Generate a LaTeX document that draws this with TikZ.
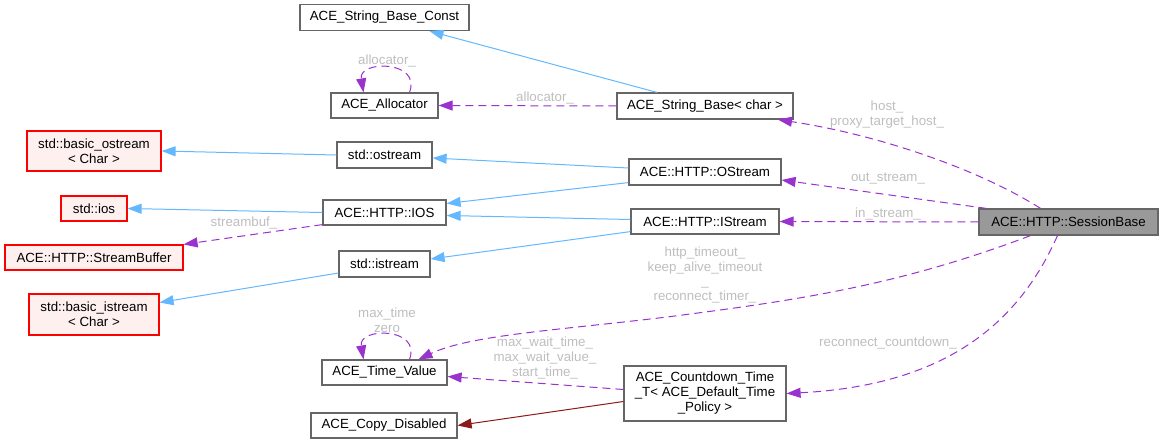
\documentclass[tikz,border=0pt]{standalone}
\usepackage{fontspec}
\setmainfont{Liberation Sans}
\usetikzlibrary{arrows.meta}
\definecolor{edgeblue}{HTML}{63B8FF}
\definecolor{edgepurple}{HTML}{9A32CD}
\definecolor{edgered}{HTML}{8B1A1A}
\definecolor{lblgray}{HTML}{BEBEBE}
\definecolor{boxgray}{HTML}{666666}
\definecolor{redfill}{HTML}{FFF0F0}
\definecolor{sessfill}{HTML}{999999}
\tikzset{
 cls/.style={draw=boxgray, fill=white, line width=1.2pt, inner sep=0pt, align=center, font=\fontsize{13.3}{15}\selectfont},
 ext/.style={cls, draw=red, fill=redfill},
 cur/.style={cls, fill=sessfill},
 inh/.style={draw=edgeblue, line width=1pt, -{Triangle[length=14pt,width=10pt]}},
 use/.style={draw=edgepurple, line width=1pt, dash pattern=on 8pt off 5pt, -{Triangle[length=14pt,width=10pt]}},
 priv/.style={draw=edgered, line width=1pt, -{Triangle[length=14pt,width=10pt]}},
 lbl/.style={text=lblgray, inner sep=0pt, align=center, font=\fontsize{13.3}{14.7}\selectfont}
}
\begin{document}
\begin{tikzpicture}[x=1pt,y=-1pt]
\useasboundingbox (0,0) rectangle (1163,444);
% nodes
\node[cls, minimum width=169pt, minimum height=26pt] (sbc) at (384.5,17.5) {ACE\_String\_Base\_Const};
\node[cls, minimum width=107pt, minimum height=25pt] (alloc) at (384.5,105.5) {ACE\_Allocator};
\node[cls, minimum width=176pt, minimum height=26pt] (sb) at (705,106) {ACE\_String\_Base< char >};
\node[ext, minimum width=134pt, minimum height=40pt] (bos) at (94,151) {std::basic\_ostream\\< Char >};
\node[cls, minimum width=95pt, minimum height=26pt] (ostream) at (384.5,155) {std::ostream};
\node[ext, minimum width=66pt, minimum height=25pt] (sios) at (94,208.5) {std::ios};
\node[cls, minimum width=123pt, minimum height=25pt] (ios) at (384.5,212.5) {ACE::HTTP::IOS};
\node[ext, minimum width=178pt, minimum height=25pt] (sbuf) at (94,257.5) {ACE::HTTP::StreamBuffer};
\node[cls, minimum width=91pt, minimum height=26pt] (istream) at (384.5,264) {std::istream};
\node[ext, minimum width=130pt, minimum height=41pt] (bis) at (94,314.5) {std::basic\_istream\\< Char >};
\node[cls, minimum width=125pt, minimum height=25pt] (tv) at (384.5,372.5) {ACE\_Time\_Value};
\node[cls, minimum width=146pt, minimum height=25pt] (copy) at (384,425.5) {ACE\_Copy\_Disabled};
\node[cls, minimum width=152pt, minimum height=26pt] (os) at (705,172) {ACE::HTTP::OStream};
\node[cls, minimum width=148pt, minimum height=25pt] (is) at (705,221.5) {ACE::HTTP::IStream};
\node[cls, minimum width=162pt, minimum height=55pt] (cd) at (705,393.5) {ACE\_Countdown\_Time\\\_T< ACE\_Default\_Time\\\_Policy >};
\node[cur, minimum width=179pt, minimum height=26pt] (sess) at (1068.5,222) {ACE::HTTP::SessionBase};
% inheritance
\draw[inh] ([xshift=-48pt]sb.north) -- ([xshift=45pt]sbc.south);
\draw[inh] (ostream.west) -- (bos.east);
\draw[inh] ([yshift=4pt]os.west) -- ([yshift=-3pt]ostream.east);
\draw[inh] ([yshift=3pt]os.south west) -- ([yshift=9pt]ios.east);
\draw[inh] ([yshift=2pt]is.west) -- ([yshift=-3pt]ios.east);
\draw[inh] (ios.west) -- (sios.east);
\draw[inh] ([yshift=3pt]is.south west) -- ([yshift=5pt]istream.east);
\draw[inh] ([yshift=-9pt]istream.west) -- ([yshift=12pt]bis.east);
% usage
\draw[use] (sb.west) -- (alloc.east);
\draw[use] ([xshift=25pt]alloc.north) .. controls (422,60) and (358,60) .. ([xshift=-21pt]alloc.north);
\draw[use] ([yshift=1pt]ios.south west) -- (sbuf.north east);
\draw[use] ([xshift=-28pt]sess.north) .. controls (980,170) and (880,135) .. ([xshift=73pt]sb.south);
\draw[use] ([xshift=8pt]sess.north west) -- ([yshift=-8pt]os.east);
\draw[use] (sess.west) -- (is.east);
\draw[use] ([xshift=-38pt]sess.south) .. controls (900,285) and (800,300) .. (667,317) .. controls (560,330) and (470,335) .. ([xshift=34pt]tv.north);
\draw[use] ([xshift=-11pt]sess.south) .. controls (1020,320) and (950,385) .. (cd.east);
\draw[use] ([yshift=4pt]cd.west) -- ([yshift=-4pt]tv.east);
\draw[use] ([xshift=25pt]tv.north) .. controls (422,327) and (358,327) .. ([xshift=-21pt]tv.north);
\draw[priv] ([yshift=-8pt]cd.west) -- (copy.east);
% labels
\node[lbl] (l1) at (387,61) {allocator\_};
\node[lbl] (l2) at (545,98) {allocator\_};
\node[lbl] (l3) at (244,223) {streambuf\_};
\node[lbl] (l4) at (887,114.5) {host\_\\proxy\_target\_host\_};
\node[lbl] (l5) at (888,179) {out\_stream\_};
\node[lbl] (l6) at (888,214) {in\_stream\_};
\node[lbl] (l7) at (705,275) {http\_timeout\_\\keep\_alive\_timeout\\\_\\reconnect\_timer\_};
\node[lbl] (l8) at (888,343) {reconnect\_countdown\_};
\node[lbl] (l9) at (545,358) {max\_wait\_time\_\\max\_wait\_value\_\\start\_time\_};
\node[lbl] (l10) at (387,320.5) {max\_time\\zero};
\end{tikzpicture}
\end{document}
